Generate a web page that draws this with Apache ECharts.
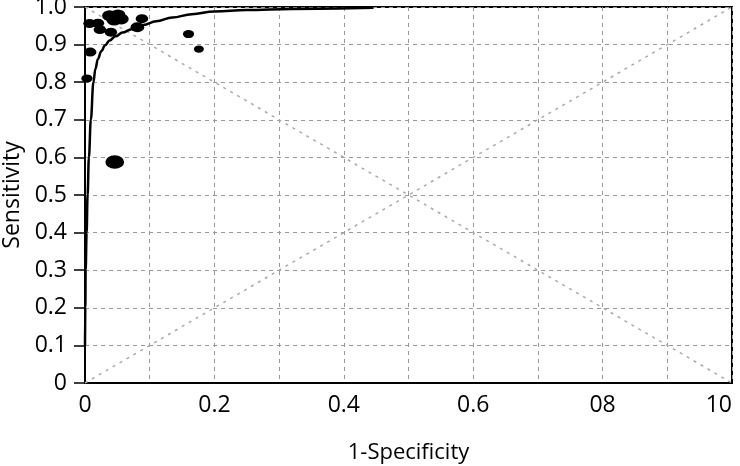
<!DOCTYPE html>
<html>
<head>
<meta charset="utf-8">
<script src="https://cdn.jsdelivr.net/npm/echarts@6/dist/echarts.min.js"></script>
<style>html,body{margin:0;padding:0;background:#fff}#c{width:740px;height:466px}</style>
</head>
<body>
<div id="c"></div>
<script>
// Study estimates (1-specificity, sensitivity) and relative weight
var studyFpr  = [0.007, 0.020, 0.023, 0.040, 0.038, 0.051, 0.056, 0.045, 0.088, 0.081, 0.160, 0.176, 0.008, 0.003, 0.046];
var studySens = [0.956, 0.957, 0.940, 0.933, 0.977, 0.979, 0.968, 0.965, 0.969, 0.946, 0.928, 0.888, 0.880, 0.810, 0.588];
var studyWeight = [10, 10, 10, 10, 12, 12, 12, 12, 10, 11, 9, 8, 10, 9, 15];

// SROC curve
var curveFpr  = [0.000, 0.0005, 0.001, 0.0025, 0.004, 0.006, 0.009, 0.013, 0.016, 0.020, 0.025, 0.031, 0.038, 0.047, 0.058, 0.072, 0.090, 0.110, 0.135, 0.165, 0.200, 0.250, 0.320, 0.446];
var curveSens = [0.100, 0.200, 0.300, 0.400, 0.500, 0.600, 0.700, 0.800, 0.835, 0.862, 0.882, 0.898, 0.911, 0.922, 0.932, 0.941, 0.952, 0.962, 0.972, 0.981, 0.988, 0.992, 0.995, 0.998];

// Reference diagonals
var diagUp   = [[0, 0], [1, 1]];
var diagDown = [[0, 1], [1, 0]];

var xTickLabels = ['0', '0.2', '0.4', '0.6', '08', '10'];
var yTickLabels = ['0', '0.1', '0.2', '0.3', '0.4', '0.5', '0.6', '0.7', '0.8', '0.9', '1.0'];

var xName = '1-Specificity';
var yName = 'Sensitivity';

var FONT = 'Open Sans';

var studies = studyFpr.map(function (x, i) { return [x, studySens[i], studyWeight[i]]; });
var curve = curveFpr.map(function (x, i) { return [x, curveSens[i]]; });

var chart = echarts.init(document.getElementById('c'), null, {renderer: 'canvas'});
chart.setOption({
  animation: false,
  backgroundColor: '#fff',
  grid: {left: 85, right: 8, top: 7, bottom: 83, containLabel: false, outerBoundsMode: 'none',
         show: true, borderColor: '#000', borderWidth: 2, backgroundColor: 'transparent'},
  xAxis: {
    type: 'value', min: 0, max: 1, interval: 0.1,
    name: xName, nameLocation: 'middle', nameGap: 59,
    nameTextStyle: {fontFamily: FONT, fontSize: 22, color: '#000'},
    axisLine: {show: true, onZero: false, lineStyle: {color: '#000', width: 2}},
    axisTick: {show: false},
    axisLabel: {
      margin: 11, fontFamily: FONT, fontSize: 23, color: '#000', alignMaxLabel: 'right',
      formatter: function (v) {
        var k = Math.round(v * 10);
        return k % 2 === 0 ? xTickLabels[k / 2] : '';
      }
    },
    splitLine: {show: true, lineStyle: {color: '#999', type: [4, 4], width: 1}}
  },
  yAxis: {
    type: 'value', min: 0, max: 1, interval: 0.1,
    name: yName, nameLocation: 'middle', nameGap: 60,
    nameTextStyle: {fontFamily: FONT, fontSize: 23, color: '#000'},
    axisLine: {show: true, onZero: false, lineStyle: {color: '#000', width: 2}},
    axisTick: {show: true, inside: false, length: 11, lineStyle: {color: '#000', width: 1.5}},
    axisLabel: {
      margin: 18, fontFamily: FONT, fontSize: 23, color: '#000',
      formatter: function (v) { return yTickLabels[Math.round(v * 10)]; }
    },
    splitLine: {show: true, lineStyle: {color: '#999', type: [4, 4], width: 1}}
  },
  series: [
    {type: 'line', data: diagUp, symbol: 'none', silent: true,
     lineStyle: {color: '#aaa', width: 1.5, type: [3, 5]}},
    {type: 'line', data: diagDown, symbol: 'none', silent: true,
     lineStyle: {color: '#aaa', width: 1.5, type: [3, 5]}},
    {type: 'line', data: curve, symbol: 'none', smooth: 0.4, smoothMonotone: 'x',
     lineStyle: {color: '#000', width: 2.5}, z: 4},
    {type: 'scatter', data: studies, z: 5,
     symbol: 'circle',
     symbolSize: function (d) { return [d[2] * 1.25, d[2] * 0.9]; },
     itemStyle: {color: '#000', opacity: 1}}
  ]
});
</script>
</body>
</html>
